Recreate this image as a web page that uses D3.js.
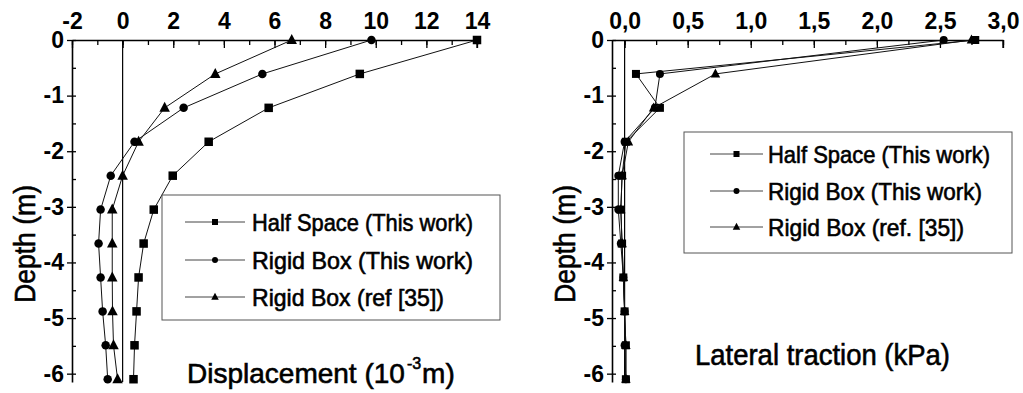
<!DOCTYPE html>
<html>
<head>
<meta charset="utf-8">
<script src="https://cdn.jsdelivr.net/npm/d3@7"></script>
<style>
  html, body { margin: 0; padding: 0; background: #fff; }
  svg { display: block; }
  .tick text { font-family: "Liberation Sans", Arial, sans-serif; font-weight: bold; fill: #000; }
  .lbl { font-family: "Liberation Sans", Arial, sans-serif; fill: #000; stroke: #000; stroke-width: 0.6px; }
</style>
</head>
<body>
<svg id="chart" width="1023" height="393"></svg>
<script>
// Depth of the sampling points along the pile (m)
const depth = [0, -0.61, -1.22, -1.83, -2.44, -3.05, -3.66, -4.27, -4.88, -5.49, -6.1];

// Pile displacement (10^-3 m)
const dispHalfSpace = [14.0, 9.37, 5.77, 3.40, 1.98, 1.23, 0.83, 0.63, 0.55, 0.47, 0.43];
const dispRigidBox  = [9.83, 5.52, 2.41, 0.47, -0.47, -0.87, -0.95, -0.87, -0.79, -0.67, -0.59];
const dispRef35     = [6.68, 3.66, 1.66, 0.63, 0.00, -0.41, -0.41, -0.41, -0.40, -0.36, -0.20];

// Lateral traction (kPa)
const tracHalfSpace = [2.78, 0.09, 0.28, 0.01, -0.02, -0.03, -0.02, -0.01, 0.00, 0.01, 0.01];
const tracRigidBox  = [2.53, 0.28, 0.24, 0.00, -0.05, -0.05, -0.03, -0.01, 0.00, 0.00, 0.01];
const tracRef35     = [2.75, 0.72, 0.23, 0.03, -0.02, -0.03, -0.02, -0.01, 0.00, 0.01, 0.01];

// Tick values
const dispTicks = [-2, 0, 2, 4, 6, 8, 10, 12, 14];
const dispMinorTicks = d3.range(-2, 14.01, 1);
const tracTicks = [0, 0.5, 1.0, 1.5, 2.0, 2.5, 3.0];
const tracMinorTicks = d3.range(0, 3.001, 0.25);
const depthTicks = [0, -1, -2, -3, -4, -5, -6];
const depthMinorTicks = d3.range(0, -6.01, -0.5);

const legendLeft  = ["Half Space (This work)", "Rigid Box  (This work)", "Rigid Box  (ref [35])"];
const legendRight = ["Half Space (This work)", "Rigid Box (This work)", "Rigid Box (ref. [35])"];

const svg = d3.select("#chart");

function marker(g, shape, x, y, s) {
  if (shape === "square") {
    g.append("rect").attr("x", x - s / 2).attr("y", y - s / 2).attr("width", s).attr("height", s).attr("fill", "#000");
  } else if (shape === "circle") {
    g.append("circle").attr("cx", x).attr("cy", y).attr("r", s / 2).attr("fill", "#000");
  } else {
    const h = s * 0.95;
    g.append("path")
      .attr("d", `M${x},${y - h * 0.6}L${x + s / 2},${y + h * 0.4}L${x - s / 2},${y + h * 0.4}Z`)
      .attr("fill", "#000");
  }
}

function panel(cfg) {
  const g = svg.append("g");
  const x = d3.scaleLinear().domain(cfg.xDomain).range(cfg.xRange);
  const y = d3.scaleLinear().domain([0, -6.15]).range([40, 382]);

  // zero line
  g.append("line")
    .attr("x1", x(0)).attr("x2", x(0)).attr("y1", y(0)).attr("y2", y(-6.15))
    .attr("stroke", "#000").attr("stroke-width", 1.2);

  // top axis, minor then major
  g.append("g").attr("transform", `translate(0,${y(0)})`)
    .call(d3.axisTop(x).tickValues(cfg.minorX).tickSize(-5).tickFormat(""))
    .call(a => a.select(".domain").remove())
    .selectAll("line").attr("stroke-width", 1.3);
  const top = g.append("g").attr("transform", `translate(0,${y(0)})`)
    .call(d3.axisTop(x).tickValues(cfg.ticksX).tickSizeInner(-8).tickSizeOuter(0).tickPadding(11).tickFormat(cfg.fmtX));
  top.select(".domain").attr("stroke-width", 1.6);
  top.selectAll("line").attr("stroke-width", 1.3);
  top.selectAll("text").attr("font-size", 23);
  // right end tick of the top axis
  g.append("line").attr("x1", cfg.xRange[1]).attr("x2", cfg.xRange[1]).attr("y1", y(0)).attr("y2", y(0) + 8)
    .attr("stroke", "#000").attr("stroke-width", 1.3);

  // left axis, minor then major
  g.append("g").attr("transform", `translate(${cfg.xRange[0]},0)`)
    .call(d3.axisLeft(y).tickValues(depthMinorTicks).tickSize(-4).tickFormat(""))
    .call(a => a.select(".domain").remove())
    .selectAll("line").attr("stroke-width", 1.3);
  const left = g.append("g").attr("transform", `translate(${cfg.xRange[0]},0)`)
    .call(d3.axisLeft(y).tickValues(depthTicks).tickSizeInner(5).tickSizeOuter(0).tickPadding(3).tickFormat(d => String(d)));
  left.select(".domain").attr("stroke-width", 1.6);
  left.selectAll("line").attr("stroke-width", 1.3);
  left.selectAll("text").attr("font-size", 23);

  // series
  const line = d3.line().x(d => x(d[0])).y(d => y(d[1]));
  cfg.series.forEach(s => {
    const pts = s.values.map((v, i) => [v, depth[i]]);
    g.append("path").attr("d", line(pts)).attr("fill", "none").attr("stroke", "#111").attr("stroke-width", 1);
    pts.forEach(p => marker(g, s.shape, x(p[0]), y(p[1]), s.size));
  });

  // legend
  const L = cfg.legend;
  g.append("rect").attr("x", L.x).attr("y", L.y).attr("width", L.w).attr("height", L.h)
    .attr("fill", "#fff").attr("stroke", "#555").attr("stroke-width", 1);
  cfg.series.forEach((s, i) => {
    const ry = L.rows[i];
    g.append("line").attr("x1", L.lx1).attr("x2", L.lx2).attr("y1", ry).attr("y2", ry)
      .attr("stroke", "#444").attr("stroke-width", 1);
    marker(g, s.shape, (L.lx1 + L.lx2) / 2, ry, s.legendSize);
    g.append("text").attr("class", "lbl").attr("x", L.tx).attr("y", ry + 8.5)
      .attr("font-size", 24).attr("textLength", L.tw[i]).attr("lengthAdjust", "spacingAndGlyphs")
      .text(cfg.labels[i]);
  });

  // depth axis title
  g.append("text").attr("class", "lbl")
    .attr("transform", `translate(${cfg.yTitleX},${244}) rotate(-90)`)
    .attr("text-anchor", "middle").attr("font-size", 30)
    .attr("textLength", 118).attr("lengthAdjust", "spacingAndGlyphs")
    .text("Depth (m)");
  return g;
}

// Displacement panel
const gl = panel({
  xDomain: [-2, 14], xRange: [72, 477],
  ticksX: dispTicks, minorX: dispMinorTicks, fmtX: d => String(d),
  series: [
    { values: dispHalfSpace, shape: "square", size: 8.5, legendSize: 6 },
    { values: dispRigidBox, shape: "circle", size: 8.5, legendSize: 6 },
    { values: dispRef35, shape: "triangle", size: 10.5, legendSize: 7.5 }
  ],
  labels: legendLeft,
  legend: { x: 162, y: 195, w: 338, h: 125, rows: [222, 260, 297], lx1: 185, lx2: 245, tx: 252, tw: [221, 221, 192] },
  yTitleX: 35
});

// displacement title: main part, raised exponent, closing unit
const dt = gl.append("text").attr("class", "lbl").attr("x", 187).attr("y", 383).attr("font-size", 28)
  .text("Displacement (10");
const dtEnd = 187 + dt.node().getComputedTextLength();
const de = gl.append("text").attr("class", "lbl").attr("x", dtEnd + 2).attr("y", 369).attr("font-size", 16)
  .text("-3");
const deEnd = dtEnd + 2 + de.node().getComputedTextLength();
gl.append("text").attr("class", "lbl").attr("x", deEnd + 1).attr("y", 383).attr("font-size", 28)
  .text("m)");

// Lateral traction panel
const gr = panel({
  xDomain: [-0.1, 3.0], xRange: [612, 1003],
  ticksX: tracTicks, minorX: tracMinorTicks, fmtX: d => d3.format(".1f")(d).replace(".", ","),
  series: [
    { values: tracHalfSpace, shape: "square", size: 8, legendSize: 6 },
    { values: tracRigidBox, shape: "circle", size: 8, legendSize: 6 },
    { values: tracRef35, shape: "triangle", size: 9.5, legendSize: 7.5 }
  ],
  labels: legendRight,
  legend: { x: 684, y: 132, w: 328, h: 121, rows: [154, 191, 227], lx1: 710, lx2: 763, tx: 768, tw: [222, 214, 196] },
  yTitleX: 575
});
gr.append("text").attr("class", "lbl").attr("x", 695).attr("y", 365).attr("font-size", 30)
  .attr("textLength", 255).attr("lengthAdjust", "spacingAndGlyphs")
  .text("Lateral traction (kPa)");
</script>
</body>
</html>
